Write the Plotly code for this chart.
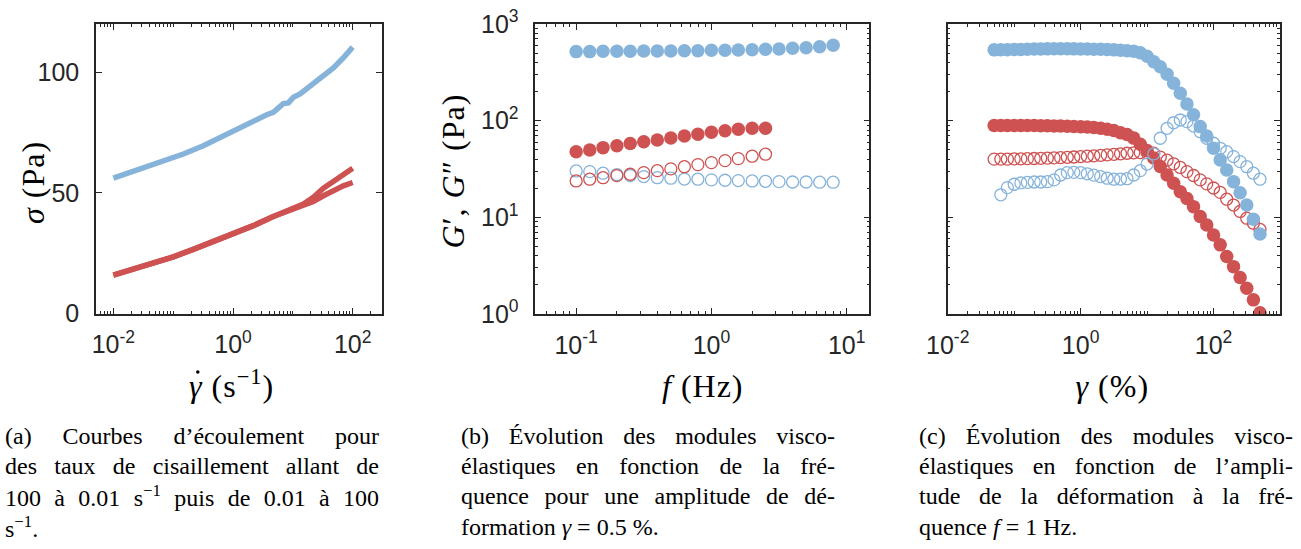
import json
import plotly.graph_objects as go

W, H = 1301, 549
BLUE = "#86b3da"
RED = "#cf5252"
AX = "#262626"
SANS = "Liberation Sans, Arial, sans-serif"
SERIF = "Liberation Serif"

# ---------------- Panel (a): flow curves ----------------
a_rate_blue = [0.01, 0.0147, 0.0317, 0.0685, 0.148, 0.319, 0.607, 1.01, 1.69, 2.49,
               3.66, 4.72, 5.73, 6.93, 8.41, 10.2, 13.2, 17.0, 28.4, 47.5, 69.8, 100]
a_sigma_blue = [56.1, 57.5, 60.2, 63.0, 66.1, 69.5, 73.0, 75.5, 78.7, 80.7,
                82.4, 83.4, 85.6, 87.0, 87.3, 89.6, 91.0, 93.1, 96.9, 101.8, 106.0, 110.4]
a_rate_red = [0.01, 0.0216, 0.0467, 0.1007, 0.217, 0.469, 1.01, 2.19, 4.72, 8.97,
              15.0, 22.0, 32.4, 47.5, 69.8, 100]
a_sigma_red_up = [15.9, 18.3, 20.8, 23.5, 26.6, 29.8, 32.8, 36.4, 40.2, 42.9,
                  45.4, 48.2, 51.9, 54.7, 57.8, 60.2]
a_sigma_red_down = [15.9, 18.3, 20.8, 23.5, 26.6, 29.8, 32.8, 36.4, 40.2, 42.9,
                    44.8, 46.4, 48.8, 51.0, 52.9, 54.3]

# ---------------- Panel (b): frequency sweep ----------------
b_freq = [0.1, 0.126, 0.158, 0.2, 0.251, 0.316, 0.398, 0.501, 0.631, 0.794,
          1.0, 1.26, 1.58, 2.0, 2.51, 3.16, 3.98, 5.01, 6.31, 7.94]
b_Gp_blue = [518, 518, 522, 522, 522, 526, 526, 526, 530, 530,
             535, 535, 539, 542, 547, 551, 561, 569, 582, 602]
b_Gpp_blue = [30.2, 29.7, 28.6, 27.7, 27.0, 26.4, 25.7, 25.4, 24.9, 24.8,
              24.4, 24.2, 24.0, 23.8, 23.6, 23.4, 23.2, 23.2, 23.1, 23.1]
b_Gp_red = [47.8, 49.8, 52.6, 55.1, 58.0, 60.5, 63.1, 66.2, 69.5, 72.3,
            75.8, 78.8, 81.5, 83.5, 83.5]
b_Gpp_red = [23.8, 24.8, 25.7, 27.0, 27.9, 29.0, 30.4, 31.7, 33.4, 35.1,
             36.8, 38.6, 40.5, 42.9, 45.0]

# ---------------- Panel (c): amplitude sweep ----------------
c_strain = [0.05, 0.063, 0.079, 0.1, 0.126, 0.158, 0.2, 0.251, 0.316, 0.398,
            0.5, 0.63, 0.79, 1.0, 1.26, 1.58, 2.0, 2.51, 3.16, 3.98,
            5.0, 6.3, 7.9, 10, 12.6, 15.8, 20, 25.1, 31.6, 39.8,
            50, 63, 79, 100, 126, 158, 200, 251, 316, 398, 500]
c_Gp_blue = [540, 541, 542, 544, 546, 548, 550, 552, 553, 554,
             554, 554, 553, 552, 551, 549, 547, 544, 540, 536,
             530, 522, 505, 465, 407, 361, 302, 244, 192, 149,
             115, 86.8, 69.5, 51.8, 39.3, 30.9, 23.4, 18.0, 13.4, 9.55, 6.73]
c_Gpp_blue = [None, 17.1, 20.3, 22.0, 22.7, 23.0, 23.2, 23.2, 23.4, 24.4,
              27.4, 29.0, 29.2, 29.0, 28.2, 27.3, 26.4, 25.4, 24.8, 24.9,
              25.1, 27.4, 30.4, 35.6, 45.3, 65.8, 83.4, 95.2, 101.6, 97.7,
              88.0, 76.9, 65.8, 58.4, 51.8, 47.8, 42.5, 37.7, 33.4, 28.6, 24.8]
c_Gp_red = [89, 89, 89, 89, 89, 89, 89, 88.5, 88.5, 88,
            88, 87.5, 87, 86.5, 86, 85, 83.5, 81.5, 79, 75,
            72, 66, 57, 49, 41, 33.5, 27.4, 22.5, 18.4, 15.7,
            12.9, 10.2, 8.34, 6.58, 5.19, 3.93, 3.09, 2.38, 1.85, 1.40, 1.03]
c_Gpp_red = [40.0, 40.0, 40.0, 40.2, 40.3, 40.5, 40.6, 40.8, 41.0, 41.2,
             41.5, 41.8, 42.1, 42.5, 42.9, 43.3, 43.8, 44.3, 44.9, 45.4,
             46.0, 46.5, 46.8, 46.6, 46.0, 42.0, 39.0, 35.8, 32.8, 29.7,
             27.1, 24.4, 22.2, 20.1, 18.1, 15.4, 13.4, 11.5, 9.8, 8.7, 7.5]

# ---------------- Texts ----------------
cap_a = ["(a) Courbes d’écoulement pour",
         "des taux de cisaillement allant de",
         "100 à 0.01 s<sup>−1</sup> puis de 0.01 à 100",
         "s<sup>−1</sup>."]
cap_b = ["(b) Évolution des modules visco-",
         "élastiques en fonction de la fré-",
         "quence pour une amplitude de dé-",
         "formation <i>γ</i> = 0.5 %."]
cap_c = ["(c) Évolution des modules visco-",
         "élastiques en fonction de l’ampli-",
         "tude de la déformation à la fré-",
         "quence <i>f</i> = 1 Hz."]

fig = go.Figure()


def filled(x, y, c, xa, ya):
    return go.Scatter(x=x, y=y, mode="markers", xaxis=xa, yaxis=ya, showlegend=False,
                      marker=dict(symbol="circle", size=13.5, color=c, line=dict(width=0)))


def opened(x, y, c, xa, ya):
    return go.Scatter(x=x, y=y, mode="markers", xaxis=xa, yaxis=ya, showlegend=False,
                      marker=dict(symbol="circle-open", size=12, color=c, line=dict(width=1.3)))


# panel a
fig.add_trace(go.Scatter(x=a_rate_blue, y=a_sigma_blue, mode="lines", xaxis="x", yaxis="y",
                         line=dict(color=BLUE, width=5.5), showlegend=False))
for ys in (a_sigma_red_down, a_sigma_red_up):
    fig.add_trace(go.Scatter(x=a_rate_red, y=ys, mode="lines", xaxis="x", yaxis="y",
                             line=dict(color=RED, width=5.5), showlegend=False))
# panel b
fig.add_trace(filled(b_freq, b_Gp_blue, BLUE, "x2", "y2"))
fig.add_trace(opened(b_freq, b_Gpp_blue, BLUE, "x2", "y2"))
fig.add_trace(filled(b_freq[:len(b_Gp_red)], b_Gp_red, RED, "x2", "y2"))
fig.add_trace(opened(b_freq[:len(b_Gpp_red)], b_Gpp_red, RED, "x2", "y2"))
# panel c
fig.add_trace(filled(c_strain, c_Gp_red, RED, "x3", "y3"))
fig.add_trace(opened(c_strain, c_Gpp_red, RED, "x3", "y3"))
fig.add_trace(opened(c_strain, c_Gpp_blue, BLUE, "x3", "y3"))
fig.add_trace(filled(c_strain, c_Gp_blue, BLUE, "x3", "y3"))


def minor_vals(k0, k1, extra=()):
    v = [m * 10.0 ** k for k in range(k0, k1) for m in range(2, 10)]
    return v + [10.0 ** e for e in extra]


def pw(e):
    return "10<sup>%d</sup>" % e


base = dict(showline=True, linecolor=AX, linewidth=1.5, mirror="allticks", ticks="inside",
            ticklen=6, tickwidth=1.2, tickcolor=AX, showgrid=False, zeroline=False,
            automargin=False, tickfont=dict(family=SANS, size=25, color=AX))


def logminor(k0, k1, extra=()):
    return dict(tickvals=minor_vals(k0, k1, extra), ticks="inside", ticklen=3,
                tickwidth=1, tickcolor=AX, showgrid=False)


ydom = [1 - 313.5 / H, 1 - 24 / H]
fig.update_layout(
    width=W, height=H, margin=dict(l=0, r=0, t=0, b=0, autoexpand=False),
    paper_bgcolor="white", plot_bgcolor="white",
    font=dict(family=SERIF),
    xaxis=dict(base, type="log", range=[-2.29, 2.49], domain=[96 / W, 382 / W], anchor="y",
               tickvals=[1e-2, 1, 1e2], ticktext=["10<sup>-2</sup>", pw(0), pw(2)],
               minor=logminor(-3, 3, (-1, 1)), ticklabelstandoff=8),
    yaxis=dict(base, range=[0, 120], domain=ydom, anchor="x",
               tickvals=[0, 50, 100], ticktext=["0", "50", "100"], ticklabelstandoff=10),
    xaxis2=dict(base, type="log", range=[-1.302, 1.167], domain=[535.3 / W, 869.3 / W], anchor="y2",
                tickvals=[0.1, 1, 10], ticktext=["10<sup>-1</sup>", pw(0), pw(1)],
                minor=logminor(-2, 2), ticklabelstandoff=8),
    yaxis2=dict(base, type="log", range=[0, 3], domain=[1 - 314 / H, 1 - 24 / H], anchor="x2",
                tickvals=[1, 10, 100, 1000], ticktext=[pw(0), pw(1), pw(2), pw(3)],
                minor=logminor(0, 3), ticklabelstandoff=10),
    xaxis3=dict(base, type="log", range=[-2, 3], domain=[947.7 / W, 1280 / W], anchor="y3",
                tickvals=[1e-2, 1, 1e2], ticktext=["10<sup>-2</sup>", pw(0), pw(2)],
                minor=logminor(-2, 3, (-1, 1)), ticklabelstandoff=8),
    yaxis3=dict(base, type="log", range=[0, 3], domain=[1 - 314 / H, 1 - 24 / H], anchor="x3",
                tickvals=[1, 10, 100, 1000], showticklabels=False,
                minor=logminor(0, 3)),
)

anns = []


def px_ann(text, x, y, size=32, angle=0, xanchor="center", align="center"):
    anns.append(dict(text=text, x=x / W, y=1 - y / H, xref="paper", yref="paper",
                     showarrow=False, textangle=angle, xanchor=xanchor, yanchor="middle",
                     align=align, font=dict(family=SERIF, size=size, color="black")))
    return len(anns) - 1


# axis titles
title_idx = [
    px_ann("<i>σ</i> (Pa)", 33, 183, angle=-90),
    px_ann("<i>γ</i> (s<sup>−1</sup>)", 187, 384, xanchor="left", align="left"),
    px_ann("<i>G</i>′, <i>G</i>″ (Pa)", 453, 171, angle=-90),
    px_ann("<i>f</i> (Hz)", 703, 386),
    px_ann("<i>γ</i> (%)", 1112, 386),
]

# captions
col_x = [3, 459, 917]
line_y = [436, 466, 496, 527]
justify_idx = []
for cx, cap in zip(col_x, [cap_a, cap_b, cap_c]):
    for i, line in enumerate(cap):
        k = px_ann(line, cx, line_y[i], size=24, xanchor="left", align="left")
        if i < len(cap) - 1:
            justify_idx.append(k)

fig.update_layout(annotations=anns)

# dot over gamma in the shear-rate axis title
fig.add_shape(type="circle", xref="paper", yref="paper",
              x0=196.0 / W, x1=199.6 / W, y0=1 - 373.8 / H, y1=1 - 370.2 / H,
              fillcolor="black", line=dict(width=0))

js = """
document.body.style.margin = '0';
var gd = document.getElementById('{plot_id}');
var justIdx = %s, titleIdx = %s;
var TARGET = 374;
function txt(i) {
  var g = gd.querySelector('g.annotation[data-index="' + i + '"]');
  return g ? g.querySelector('text.annotation-text') : null;
}
titleIdx.forEach(function(i){ var t = txt(i); if (t) { t.style.letterSpacing = '1px'; } });
justIdx.forEach(function(i){
  var t = txt(i);
  if (!t) return;
  var s = t.textContent;
  var n = (s.match(/ /g) || []).length;
  var w = t.getComputedTextLength();
  if (n > 0 && w < TARGET) {
    t.style.wordSpacing = ((TARGET - w) / n) + 'px';
  } else if (w > TARGET) {
    t.setAttribute('textLength', TARGET);
    t.setAttribute('lengthAdjust', 'spacingAndGlyphs');
  }
});
""" % (json.dumps(justify_idx), json.dumps(title_idx))

fig.write_html("out.html", post_script=js, config={"displayModeBar": False})
